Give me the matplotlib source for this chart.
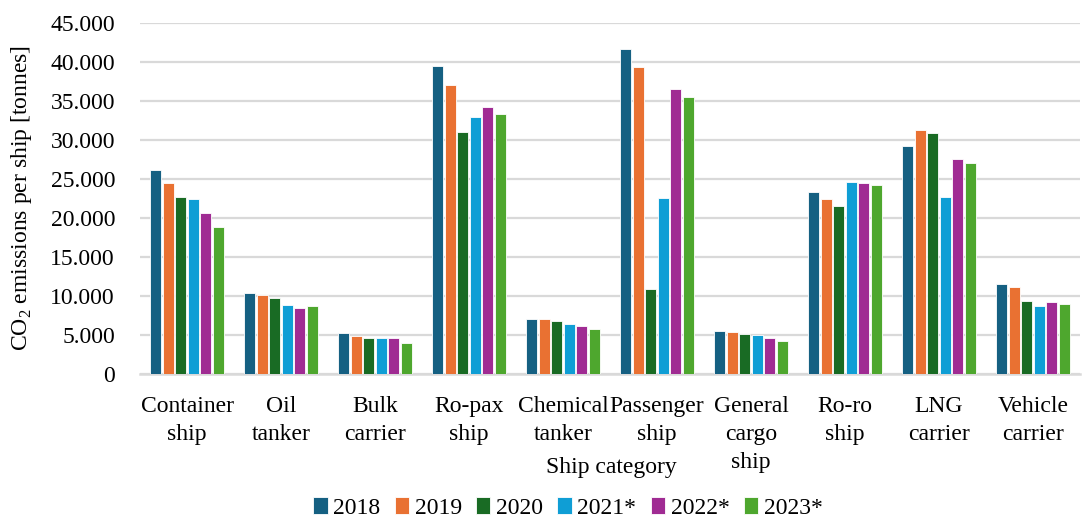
import matplotlib
matplotlib.use("Agg")
import matplotlib.pyplot as plt
import numpy as np
from matplotlib.ticker import FuncFormatter, MultipleLocator

categories = ["Container\nship", "Oil\ntanker", "Bulk\ncarrier", "Ro-pax\nship",
              "Chemical\ntanker", "Passenger\nship", "General\ncargo\nship",
              "Ro-ro\nship", "LNG\ncarrier", "Vehicle\ncarrier"]
years = ["2018", "2019", "2020", "2021*", "2022*", "2023*"]

v2018 = [26100, 10400, 5300, 39500, 7100, 41700, 5450, 23350, 29200, 11500]
v2019 = [24500, 10100, 4900, 37100, 7050, 39300, 5370, 22400, 31250, 11100]
v2020 = [22750, 9770, 4560, 31050, 6800, 10900, 5120, 21550, 30850, 9400]
v2021 = [22500, 8830, 4560, 33000, 6400, 22600, 5030, 24570, 22650, 8700]
v2022 = [20700, 8400, 4600, 34200, 6150, 36550, 4650, 24480, 27600, 9250]
v2023 = [18800, 8740, 4000, 33280, 5760, 35500, 4170, 24270, 27050, 9000]
series = [v2018, v2019, v2020, v2021, v2022, v2023]

colors = ["#156082", "#E97132", "#196B24", "#0F9ED5", "#A02B93", "#4EA72E"]

plt.rcParams["font.family"] = ["Liberation Serif", "DejaVu Serif"]
plt.rcParams["mathtext.fontset"] = "custom"
plt.rcParams["mathtext.rm"] = "Liberation Serif"

W, H = 1083, 519
fig = plt.figure(figsize=(W / 100, H / 100), dpi=100)
ax = fig.add_axes([140 / W, 1 - 374 / H, 940 / W, (374 - 23) / H])

x = np.arange(len(categories))
slot = 12.5 / 94
bw = 10.8 / 94
for i, (vals, c, lab) in enumerate(zip(series, colors, years)):
    ax.bar(x + (i - 2.5) * slot, vals, width=bw, color=c, label=lab,
           edgecolor="white", linewidth=0.6, zorder=3)

ax.set_xlim(-0.5, len(categories) - 0.5)
ax.set_ylim(0, 45000)
ax.yaxis.set_major_locator(MultipleLocator(5000))
ax.yaxis.set_major_formatter(FuncFormatter(lambda v, p: f"{int(v):,}".replace(",", ".")))
ax.grid(axis="y", color="#d9d9d9", linewidth=1.6, zorder=0)
ax.set_axisbelow(True)
for s in ["top", "right", "left"]:
    ax.spines[s].set_visible(False)
ax.spines["bottom"].set_color("#d9d9d9")
ax.spines["bottom"].set_linewidth(1.8)
ax.tick_params(axis="both", length=0, labelsize=17, colors="black")
ax.tick_params(axis="y", pad=18)
ax.tick_params(axis="x", pad=16)
ax.set_xticks(x)
ax.set_xticklabels(categories, linespacing=1.42, va="top")

fig.text(22 / W, 1 - 198 / H, "CO$_2$ emissions per ship [tonnes]", fontsize=17,
         rotation=90, ha="center", va="center")
fig.text(611 / W, 1 - 468 / H, "Ship category", fontsize=17, ha="center", va="center")

ax.legend(loc="center", bbox_to_anchor=(568 / W, 1 - 508 / H), bbox_transform=fig.transFigure,
          ncol=6, frameon=False, fontsize=17, handlelength=0.6, handleheight=0.75,
          handletextpad=0.25, columnspacing=0.6, borderpad=0)

fig.savefig("out.png", dpi=100)
